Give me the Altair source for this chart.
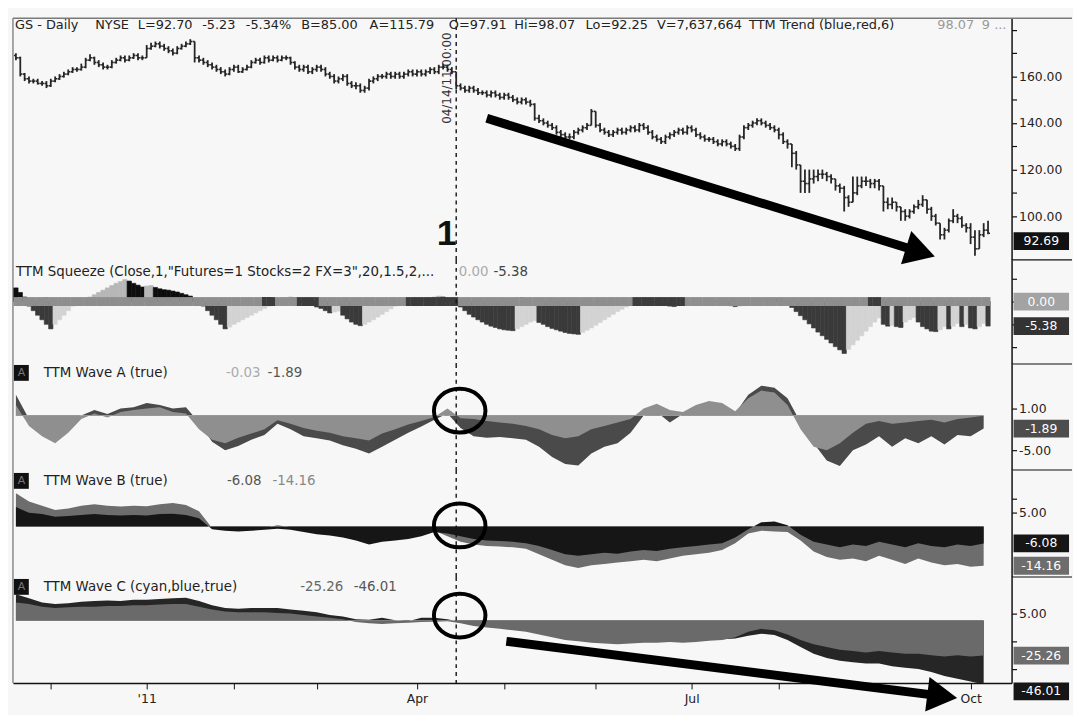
import math
import altair as alt
import pandas as pd

FONT = "DejaVu Sans"

# ------------------------------------------------------------------ data
start_date = "2010-11-18"
market_holidays = ["2010-11-25", "2010-12-24", "2011-01-17", "2011-02-21",
                   "2011-04-22", "2011-05-30", "2011-07-04", "2011-09-05"]

first_open = 169.0
closes = [
    168, 161,
    159, 158, 158, 157,
    157, 156, 158, 159, 160,
    161, 162, 163, 163, 164,
    167, 168, 166, 165, 164,
    164, 166, 167, 168,
    167, 168, 169, 168, 168,
    172, 173, 174, 173, 172,
    171, 170, 172, 173, 174,
    175, 168, 167, 166,
    165, 164, 163, 162, 161,
    163, 164, 162, 163, 164,
    166, 167, 166, 168, 167,
    168, 167, 168, 168, 166,
    164, 163, 164, 162,
    163, 164, 163, 161, 160,
    158, 159, 160, 157, 156,
    156, 154, 155, 158, 159,
    160, 160, 161, 160, 161,
    160, 161, 162, 161, 162,
    161, 162, 163, 162, 164,
    164, 163, 162, 156, 155,
    154, 155, 154, 153,
    153, 152, 153, 152, 151,
    152, 151, 150, 149, 150,
    149, 148, 142, 141, 140,
    139, 138, 136, 135, 134,
    134, 136, 137, 138, 139,
    145, 139, 137, 136,
    135, 136, 137, 136, 137,
    138, 137, 139, 138, 136,
    134, 133, 132, 134, 135,
    136, 137, 136, 138, 137,
    135, 134, 133, 133,
    132, 131, 132, 131, 130,
    129, 134, 138, 139, 140,
    141, 140, 139, 138, 137,
    135, 132, 131, 127, 122,
    115, 114, 116, 117, 118,
    118, 117, 116, 113, 112,
    108, 106, 110, 113, 115,
    115, 114, 115, 113, 106,
    105, 106, 104, 102,
    100, 102, 104, 105, 107,
    103, 100, 97, 92, 94,
    98, 100, 99, 96, 95,
    91, 86, 92, 94, 92.69,
]
highs = [
    170, 168.5,
    161.5, 160, 159, 159,
    158, 158, 159, 160, 161,
    162, 163, 164, 164, 165.5,
    168, 169.5, 168.5, 167, 166,
    165, 167, 168, 169,
    169, 169, 170, 170, 169,
    173.5, 174.5, 175, 175, 174,
    173, 172, 173, 174, 175,
    176, 175, 169, 168,
    167, 166, 165, 164, 163,
    164, 165, 165, 164, 165,
    167, 168, 168, 169, 169,
    169, 169, 169, 169, 168.5,
    166.5, 165, 165, 165,
    164, 165, 165, 164, 162,
    161, 160, 161, 161, 158,
    157.5, 157, 156, 159, 160,
    161, 161, 162, 162, 162,
    162, 162, 163, 163, 163,
    163, 163, 164, 164, 165,
    165.5, 165, 164, 162, 157,
    156, 156, 156, 155,
    154, 154, 154, 154, 153,
    153, 153, 152, 151, 151,
    151, 150, 148.5, 143.5, 142,
    141, 140, 139, 137, 136,
    135.5, 137, 138, 139, 140,
    146, 145, 140, 138,
    137, 137, 138, 138, 138,
    139, 139, 140, 140, 139,
    137, 135, 134, 135, 136,
    137, 138, 138, 139, 139,
    138, 136, 135, 134,
    134, 133, 133, 133, 132,
    131, 135, 139, 140, 141,
    142, 142, 141, 140, 139,
    138, 136, 133, 131, 128,
    122, 120, 120, 120, 120,
    120, 119, 118, 116, 114,
    113, 109, 117, 117, 117,
    117, 116, 116, 116, 113,
    108, 108, 106, 104,
    103, 103, 105, 107, 109,
    107, 104, 101, 97, 95,
    99, 103, 101, 100, 97,
    97, 94, 94, 97, 98.07,
]
lows = [
    167, 160,
    158, 157, 157, 156.5,
    156, 155, 155.5, 157.5, 158.5,
    159.5, 160.5, 161.5, 162, 162.5,
    163.5, 166.5, 165, 164, 163,
    163, 163.5, 165.5, 166.5,
    166, 166.5, 167.5, 167, 167,
    168, 171.5, 172.5, 172, 171,
    170, 169, 169.5, 171.5, 172.5,
    173.5, 166, 166, 165,
    164, 163, 162, 161, 160,
    160.5, 162, 161.5, 161.5, 162.5,
    163.5, 165.5, 165, 165.5, 166,
    166.5, 166, 166.5, 167, 165,
    163, 162, 162, 161,
    161, 162, 162, 160, 159,
    157, 157, 158, 156, 155,
    154.5, 153, 153, 154, 157,
    158, 159, 159, 159, 159,
    159, 159, 160, 160, 160,
    160, 160, 161, 161, 161,
    163, 162, 161, 154.5, 154,
    153, 153, 153, 152,
    152, 151, 151, 151, 150,
    150, 150, 149, 148, 148,
    148, 147, 141, 140, 139,
    138, 137, 135, 134, 133,
    133, 133, 135, 136, 137,
    139, 138, 136, 135,
    134, 134, 135, 135, 135,
    136, 136, 136, 137, 135,
    133, 132, 131, 131, 133,
    134, 135, 135, 135, 136,
    134, 133, 132, 132,
    131, 130, 130, 130, 129,
    128, 128, 133, 137, 138,
    139, 139, 138, 137, 136,
    133, 131, 129, 121, 120,
    110, 110, 110, 114, 115,
    116, 115, 114, 111, 110,
    102, 104, 106, 109, 112,
    113, 112, 112, 111, 102,
    103, 103, 102, 98,
    98, 99, 101, 103, 104,
    101, 98, 96, 90, 90,
    93, 97, 97, 95, 93,
    88, 83, 86, 91, 92.25,
]

squeeze_vals = [
    3.0, 2.0, 1.0, -1.0, -2.0, -3.0, -4.0, -5.0, -6.0, -5.0,
    -4.0, -3.0, -2.0, -1.0, -0.5, 0.3, 0.5, 1.0, 1.5, 2.0,
    2.5, 3.0, 3.5, 4.0, 4.4, 4.8, 4.5, 4.0, 3.6, 3.2,
    3.4, 3.5, 3.1, 2.8, 2.6, 2.5, 2.3, 2.1, 1.8, 1.5,
    1.2, 0.5, -0.3, -1.0, -2.0, -3.0, -4.0, -5.0, -6.0, -5.6,
    -5.0, -4.5, -4.0, -3.5, -3.0, -2.5, -2.0, -1.5, -1.0, -0.5,
    0.2, 0.4, 0.8, 1.0, 0.8, 0.3, -0.2, -0.5, -0.8, -1.2,
    -1.5, -2.0, -2.5, -2.3, -2.1, -3.0, -3.8, -4.5, -5.0, -5.3,
    -5.0, -4.5, -4.0, -3.4, -2.8, -2.2, -1.6, -1.0, -0.5, -0.2,
    0.0, 0.1, 0.2, 0.4, 0.6, 0.8, 1.0, 1.2, 1.0, 0.7,
    0.3, -0.5, -1.2, -2.0, -2.8, -3.4, -4.0, -4.5, -5.0, -5.4,
    -5.7, -6.0, -6.2, -6.3, -6.4, -6.0, -5.5, -5.0, -4.5, -4.2,
    -4.6, -5.0, -5.5, -5.9, -6.2, -6.5, -6.8, -7.0, -7.1, -7.2,
    -6.8, -6.3, -5.8, -5.2, -4.6, -4.0, -3.4, -2.8, -2.2, -1.7,
    -1.2, -0.8, -0.4, -0.1, 0.0, 0.1, 0.0, -0.2, -0.4, -0.7,
    -1.0, -1.1, -0.9, -0.6, -0.4, -0.3, -0.2, -0.1, 0.0, 0.0,
    0.0, -0.1, -0.3, -0.6, -0.9, -1.1, -1.0, -0.6, -0.2, 0.1,
    0.3, 0.5, 0.7, 0.8, 0.6, 0.4, 0.1, -0.5, -1.3, -2.2,
    -3.1, -4.0, -4.9, -5.8, -6.7, -7.5, -8.3, -9.1, -9.9, -10.6,
    -11.4, -10.5, -9.5, -8.5, -7.5, -6.5, -5.5, -4.5, -3.6, -5.0,
    -5.4, -5.2, -5.5, -5.7, -4.5, -4.0, -3.5, -4.5, -5.5, -6.0,
    -6.5, -6.6, -6.2, -5.5, -6.0, -5.4, -4.8, -5.5, -5.0, -5.8,
    -6.0, -5.5, -4.8, -5.38,
]
squeeze_on_ranges = [[57, 59], [65, 69], [90, 101], [142, 153], [196, 198]]

wave_step = 3
wave_a_fast = [
    1.5, -1.5, -3.0, -4.0, -2.5, -0.5, 0.3, -0.3, 0.5, 0.8,
    1.0, 1.2, 0.5, 0.3, -2.0, -3.5, -4.0, -3.2, -2.6, -2.0,
    -0.7, -1.2, -1.8, -2.2, -2.5, -3.0, -3.3, -3.6, -2.6, -2.0,
    -1.3, -0.8, -0.2, 1.0, -0.4, -0.5, -0.8, -1.0, -1.2, -1.5,
    -2.0, -2.8, -3.3, -3.0, -2.0, -1.5, -1.0, -0.5, 1.0, 1.7,
    0.8, 0.5, 1.5, 2.1, 1.8, 0.6, 2.5, 3.6, 3.3, 1.5,
    -2.0, -4.5, -5.0, -4.0, -2.5, -1.2, -0.8, -1.2, -1.0, -0.8,
    -0.6, -1.0, -0.5, -0.3, -0.03,
]
wave_a_slow = [
    3.0, -0.5, -1.0, -1.5, -1.0, 0.0, 0.8, 0.2, 1.0, 1.2,
    1.8, 1.5, 1.0, 1.2, -1.0, -3.8, -5.0, -4.4, -3.5, -2.8,
    -1.2, -2.0, -3.0, -3.3, -3.6, -4.3, -4.8, -5.5, -4.5, -3.5,
    -2.5, -1.6, -0.6, 0.3, -1.8, -3.0, -3.2, -3.1, -3.3, -3.5,
    -4.5, -6.0, -7.0, -7.2, -5.5, -4.5, -4.0, -2.5, 0.0, 0.5,
    -1.0, 0.2, 0.5, 1.0, 1.0, 0.3, 3.0, 4.3, 4.0, 2.5,
    -1.0, -4.0, -6.5, -7.3, -5.0, -4.2, -3.0, -4.5, -3.3, -4.0,
    -3.0, -4.2, -2.8, -3.0, -1.89,
]
wave_b_fast = [
    7.0, 5.0, 4.5, 3.5, 3.8, 4.2, 4.5, 4.2, 4.0, 4.2,
    4.0, 4.5, 4.6, 4.2, 3.0, -1.0, -1.5, -1.8, -1.5, -1.2,
    -0.8, -1.2, -2.0, -2.8, -3.2, -4.0, -5.0, -6.5, -5.5, -5.0,
    -4.5, -3.5, -2.0, -2.5, -3.5, -4.5, -5.0, -5.2, -5.5, -6.0,
    -7.0, -8.5, -10.0, -10.5, -10.0, -9.5, -9.8, -9.0, -8.5, -8.8,
    -8.0, -7.5, -7.0, -6.5, -6.0, -4.0, -1.0, 1.5, 1.8, 0.5,
    -3.0, -5.5, -6.5, -7.5, -6.5, -7.0, -5.5, -6.5, -7.5, -6.0,
    -7.0, -7.5, -6.5, -7.0, -6.08,
]
wave_b_slow = [
    12.0, 9.0, 7.5, 6.0, 6.5, 7.5, 8.0, 7.5, 7.2, 7.5,
    7.3, 8.0, 8.5, 7.8, 5.5, -0.5, -0.8, -1.0, -0.8, -0.5,
    0.5, -0.3, -1.0, -1.5, -2.0, -2.5, -3.0, -4.0, -3.5, -3.0,
    -2.8, -2.5, -1.5, -3.5, -5.5, -6.5, -7.0, -7.2, -7.5, -8.0,
    -10.0, -12.0, -14.0, -15.0, -14.0, -13.5, -13.0, -12.5, -12.0, -12.5,
    -11.5, -10.5, -10.0, -9.5, -8.5, -6.0, -2.5, -1.5, -1.8, -2.0,
    -5.0, -9.0, -11.0, -12.0, -11.5, -12.5, -10.5, -12.0, -13.5, -11.5,
    -13.0, -14.0, -13.5, -14.5, -14.16,
]
wave_c_fast = [
    13.0, 12.0, 10.0, 9.0, 9.5, 10.0, 10.0, 10.5, 10.5, 11.0,
    11.0, 11.5, 12.0, 12.0, 10.0, 8.0, 6.5, 6.0, 6.0, 6.0,
    5.5, 5.0, 4.0, 3.0, 2.0, 1.0, -1.0, -2.0, -2.5, -2.0,
    -1.5, -1.0, -0.8, -0.5, -2.0, -4.0, -5.0, -6.0, -7.0, -8.0,
    -10.0, -12.0, -14.0, -15.0, -16.0, -16.5, -17.0, -16.5, -16.0, -16.0,
    -15.5, -16.0, -15.5, -14.5, -14.0, -12.0, -8.0, -6.0, -7.0, -10.0,
    -14.0, -17.0, -19.0, -21.0, -22.0, -23.0, -22.0, -23.0, -24.0, -24.0,
    -25.0, -26.0, -25.0, -26.0, -25.26,
]
wave_c_slow = [
    19.0, 16.0, 13.0, 12.0, 12.5, 13.5, 14.0, 14.5, 14.0, 15.0,
    15.0, 15.5, 16.0, 16.5, 14.0, 11.0, 9.0, 8.5, 9.0, 9.0,
    9.0, 8.0, 7.0, 6.0, 4.0, 3.0, 1.0, 0.5, 2.0, 0.3,
    -0.5, 2.0, 2.0, 1.0, -1.0, -3.0, -4.0, -5.0, -6.0, -7.0,
    -9.0, -11.0, -13.0, -14.0, -15.0, -15.0, -16.0, -15.5, -15.0, -15.0,
    -14.5, -15.0, -14.5, -14.0, -13.5, -13.0, -11.0, -9.5, -10.5, -14.0,
    -19.0, -24.0, -27.0, -29.0, -30.0, -31.0, -31.0, -33.0, -34.0, -35.0,
    -37.0, -40.0, -42.0, -44.0, -46.01,
]

# annotation anchors (trading-day index, value)
event_index = 101
event_text = "04/14/11 00:00"
event_text_pos = [98.9, 159.3]
marker_text = "1"
marker_pos = [98.8, 92.2]
arrow1_x = [108.0, 207.5]
arrow1_y = [142.0, 84.6]
arrow2_x = [112.5, 212.5]
arrow2_y = [-15.0, -54.5]
circle_x = 101.8
circle_a_y = 0.7
circle_b_y = 0.4
circle_c_y = 3.6

# right-axis tick values
price_ticks = [100, 110, 120, 130, 140, 150, 160, 170, 180]
price_tick_labels = [100, 120, 140, 160]
squeeze_ticks = [5, 0, -5, -10]
squeeze_tick_labels = []
wave_a_ticks = [1, -5]
wave_b_ticks = [10, 5]
wave_b_tick_labels = [5]
wave_c_ticks = [5, -15, -35]
wave_c_tick_labels = [5]

# last-value boxes: values, colours, extra downward shift in px (label collision push)
price_boxes = ([92.69], ["#111111"], [8])
squeeze_boxes = ([0.0, -5.38], ["#a3a3a3", "#333333"], [0, 0])
wave_a_boxes = ([-1.89], ["#4d4d4d"], [0])
wave_b_boxes = ([-6.08, -14.16], ["#161616", "#6d6d6d"], [0, 0])
wave_c_boxes = ([-25.26, -46.01], ["#6d6d6d", "#161616"], [0, 7])

# header texts: (text, panel x, colour)
price_header = [
    ("GS - Daily", 2, "#222"), ("NYSE", 83, "#222"), ("L=92.70", 126, "#222"),
    ("-5.23", 191, "#222"), ("-5.34%", 235, "#222"), ("B=85.00", 291, "#222"),
    ("A=115.79", 360, "#222"), ("O=97.91", 440, "#222"), ("Hi=98.07", 506, "#222"),
    ("Lo=92.25", 578, "#222"), ("V=7,637,664", 650, "#222"),
    ("TTM Trend (blue,red,6)", 743, "#222"), ("98.07", 933, "#9a9a9a"), ("9 ...", 978, "#9a9a9a"),
]
squeeze_header = [
    ('TTM Squeeze (Close,1,"Futures=1 Stocks=2 FX=3",20,1.5,2,...', 3, "#222"),
    ("0.00", 450, "#ababab"), ("-5.38", 485, "#444"),
]
wave_a_header = [("TTM Wave A (true)", 31, "#222"), ("-0.03", 215, "#ababab"), ("-1.89", 257, "#555")]
wave_b_header = [("TTM Wave B (true)", 31, "#222"), ("-6.08", 216, "#555"), ("-14.16", 262, "#888")]
wave_c_header = [("TTM Wave C (cyan,blue,true)", 31, "#222"), ("-25.26", 290, "#666"),
                 ("-46.01", 344, "#555")]

# ------------------------------------------------------------------ geometry / scales
W = 1008
HP, HS, HA, HB, HC = 244, 105, 107, 108, 107
x_domain = [-0.68, 228.4]
price_domain = [81.2, 185.0]
squeeze_domain = [-13.7, 9.13]
wave_a_domain = [-7.86, 7.43]
wave_b_domain = [-18.2, 20.4]
wave_c_domain = [-45.0, 31.4]

XS = alt.Scale(domain=x_domain, nice=False, zero=False)


def yscale(dom):
    return alt.Scale(domain=dom, nice=False, zero=False)


def fmt(v):
    return f"{v:.2f}"


def right_axis(ticks, labels):
    if labels:
        expr = " : ".join(f"datum.value == {v} ? '{fmt(v)}'" for v in labels) + " : ''"
    else:
        expr = "''"
    return alt.Axis(orient="right", values=ticks, labelExpr=expr, title=None, grid=False,
                    domainColor="#111", domainWidth=1.5, tickColor="#111", tickSize=5,
                    tickWidth=1.2, labelFont=FONT, labelFontSize=12.5, labelColor="#222",
                    labelPadding=2, labelOverlap=False, labelBound=False, labelFlush=False)


def one():
    return pd.DataFrame({"a": [1]})


ELLIPSE = "M -1 0 A 1 0.85 0 1 1 1 0 A 1 0.85 0 1 1 -1 0 Z"


class Panel:
    """Holds the shared x/y definitions of one stacked pane."""

    def __init__(self, dom, h, yaxis, xaxis=None):
        self.ys = yscale(dom)
        self.dom = dom
        self.h = h
        self.ya = yaxis
        self.xa = xaxis

    def X(self, field):
        return alt.X(f"{field}:Q", scale=XS, axis=self.xa)

    def Y(self, field):
        return alt.Y(f"{field}:Q", scale=self.ys, axis=self.ya)

    def text_at(self, text, x, y, color="#222", size=12, weight="normal", align="left"):
        return alt.Chart(pd.DataFrame({"t": [text]})).mark_text(
            align=align, baseline="middle", font=FONT, fontSize=size, fontWeight=weight, color=color
        ).encode(x=alt.value(x), y=alt.value(y), text="t:N")

    def header(self, items, y, size=13):
        return [self.text_at(t, x, y, color=c, size=size) for t, x, c in items]

    def value_boxes(self, spec):
        vals, cols, shifts = spec
        out = []
        for v, c, s in zip(vals, cols, shifts):
            df = pd.DataFrame({"v": [v], "t": [fmt(v)]})
            out.append(alt.Chart(df).mark_rect(color=c, yOffset=-9 + s, y2Offset=9 + s).encode(
                x=alt.value(W + 2), x2=alt.value(W + 58), y=self.Y("v"), y2="v:Q"))
            out.append(alt.Chart(df).mark_text(font=FONT, fontSize=12.5, color="white",
                                               align="center", baseline="middle", dy=s).encode(
                x=alt.value(W + 30), y=self.Y("v"), text="t:N"))
        return out

    def separator(self):
        return alt.Chart(one()).mark_rule(color="#111", strokeWidth=1.2).encode(
            x=alt.value(W), x2=alt.value(W + 61), y=alt.value(0))

    def left_border(self):
        return alt.Chart(one()).mark_rule(color="#8a8a8a", strokeWidth=1.5).encode(
            x=alt.value(0), y=alt.value(0), y2=alt.value(self.h))

    def event_rule(self):
        return alt.Chart(pd.DataFrame({"i": [event_index]})).mark_rule(
            color="#111", strokeDash=[4, 4], strokeWidth=1.4).encode(x=self.X("i"))

    def a_icon(self, y0):
        box = alt.Chart(one()).mark_rect(color="#111").encode(
            x=alt.value(1), x2=alt.value(16), y=alt.value(y0), y2=alt.value(y0 + 16))
        return [box, self.text_at("A", 8.5, y0 + 8, color="#777", size=11, align="center")]

    def arrow(self, xs, ys, head_size):
        sx = W / (x_domain[1] - x_domain[0])
        sy = self.h / (self.dom[1] - self.dom[0])
        ang = math.degrees(math.atan2((ys[0] - ys[1]) * sy, (xs[1] - xs[0]) * sx))
        seg = pd.DataFrame({"x0": [xs[0]], "x1": [xs[1]], "y0": [ys[0]], "y1": [ys[1]]})
        shaft = alt.Chart(seg).mark_rule(color="black", strokeWidth=9, strokeCap="butt").encode(
            x=self.X("x0"), x2="x1:Q", y=self.Y("y0"), y2="y1:Q")
        head = alt.Chart(pd.DataFrame({"x": [xs[1]], "y": [ys[1]]})).mark_point(
            shape="triangle-right", filled=True, size=head_size, angle=ang, color="black",
            opacity=1, strokeWidth=0).encode(x=self.X("x"), y=self.Y("y"))
        return [shaft, head]

    def circle(self, yv):
        return alt.Chart(pd.DataFrame({"x": [circle_x], "y": [yv]})).mark_point(
            shape=ELLIPSE, size=2704, filled=False, strokeWidth=4, color="black", opacity=1
        ).encode(x=self.X("x"), y=self.Y("y"))


# ------------------------------------------------------------------ tables
bday = pd.offsets.CustomBusinessDay(holidays=market_holidays)
n = len(closes)
dates = pd.date_range(start_date, periods=n, freq=bday)
idx = list(range(n))
opens = [first_open] + closes[:-1]
price_df = pd.DataFrame({"i": idx, "open": opens, "high": highs, "low": lows, "close": closes})
price_df["i_l"] = price_df["i"] - 0.45
price_df["i_r"] = price_df["i"] + 0.45

month_ticks, month_labels, seen = [], {}, set()
for i, d in zip(idx, dates):
    key = (d.year, d.month)
    if key in seen:
        continue
    seen.add(key)
    if d.day > 5:
        continue
    month_ticks.append(i)
    if d.month == 1:
        month_labels[i] = "'" + f"{d.year % 100:02d}"
    elif d.month in (4, 7, 10):
        month_labels[i] = d.strftime("%b")
x_label_expr = " : ".join(f'datum.value == {k} ? "{v}"' for k, v in month_labels.items()) + ' : ""'
x_axis = alt.Axis(values=month_ticks, labelExpr=x_label_expr, title=None, grid=False,
                  domainColor="#111", domainWidth=1.5, tickColor="#111", tickSize=6,
                  labelFont=FONT, labelFontSize=12.5, labelColor="#222", labelPadding=4,
                  labelOverlap=False)

sq = pd.DataFrame({"i": list(range(len(squeeze_vals))), "v": squeeze_vals})
prev = sq["v"].shift(1).fillna(sq["v"])
rising = sq["v"] > prev
sq["c"] = [("#b7b7b7" if r else "#0d0d0d") if v >= 0 else ("#d3d3d3" if r else "#3a3a3a")
           for v, r in zip(sq["v"], rising)]
sq["i_l"] = sq["i"] - 0.5
sq["i_r"] = sq["i"] + 0.5
on = [any(a <= i <= b for a, b in squeeze_on_ranges) for i in sq["i"]]
dots = pd.DataFrame({"i_l": sq["i"] - 0.55, "i_r": sq["i"] + 0.55, "z": 0.0,
                     "c": ["#3c3c3c" if o else "#8e8e8e" for o in on]})

wave_idx = list(range(0, n, wave_step))[:len(wave_a_fast)]

# ------------------------------------------------------------------ panels
BAR = "#262626"
P = Panel(price_domain, HP, right_axis(price_ticks, price_tick_labels))
pb = alt.Chart(price_df)
price_layers = [
    P.left_border(),
    alt.Chart(one()).mark_rule(color="#7a7a7a", strokeWidth=1.5).encode(
        x=alt.value(0), x2=alt.value(W + 61), y=alt.value(0)),
    P.event_rule(),
    pb.mark_rule(color=BAR, strokeWidth=1.8).encode(x=P.X("i"), y=P.Y("low"), y2="high:Q"),
    pb.mark_rule(color=BAR, strokeWidth=1.6).encode(x=P.X("i_l"), x2="i:Q", y=P.Y("open")),
    pb.mark_rule(color=BAR, strokeWidth=1.6).encode(x=P.X("i"), x2="i_r:Q", y=P.Y("close")),
    *P.arrow(arrow1_x, arrow1_y, 1225),
    alt.Chart(pd.DataFrame({"x": [marker_pos[0]], "y": [marker_pos[1]], "t": [marker_text]}))
    .mark_text(font="Liberation Sans", fontSize=36, fontWeight="bold", color="#111")
    .encode(x=P.X("x"), y=P.Y("y"), text="t:N"),
    alt.Chart(pd.DataFrame({"x": [event_text_pos[0]], "y": [event_text_pos[1]], "t": [event_text]}))
    .mark_text(font=FONT, fontSize=12, color="#333", angle=270)
    .encode(x=P.X("x"), y=P.Y("y"), text="t:N"),
    *P.header(price_header, 7, size=13),
    *P.value_boxes(price_boxes),
]
price_panel = alt.layer(*price_layers).properties(width=W, height=HP)

S = Panel(squeeze_domain, HS, right_axis(squeeze_ticks, squeeze_tick_labels))
squeeze_layers = [
    S.left_border(),
    S.separator(),
    alt.Chart(sq).mark_rect(strokeWidth=0.6).encode(
        x=S.X("i_l"), x2="i_r:Q", y=S.Y("v"), y2=alt.datum(0),
        color=alt.Color("c:N", scale=None), stroke=alt.Stroke("c:N", scale=None)),
    alt.Chart(dots).mark_rect(yOffset=-4.5, y2Offset=4.5).encode(
        x=S.X("i_l"), x2="i_r:Q", y=S.Y("z"), y2="z:Q", color=alt.Color("c:N", scale=None)),
    S.event_rule(),
    *S.header(squeeze_header, 12, size=13.5),
    *S.value_boxes(squeeze_boxes),
]
squeeze_panel = alt.layer(*squeeze_layers).properties(width=W, height=HS)


def wave_panel(pan, fast, slow, c_fast, c_slow, circ_y, header, icon_y, boxes, extra=()):
    wdf = pd.DataFrame({"i": wave_idx, "fast": fast, "slow": slow})
    layers = [
        pan.left_border(),
        pan.separator(),
        alt.Chart(wdf).mark_area(color=c_slow, clip=True, opacity=1).encode(
            x=pan.X("i"), y=pan.Y("slow"), y2=alt.datum(0)),
        alt.Chart(wdf).mark_area(color=c_fast, clip=True, opacity=1).encode(
            x=pan.X("i"), y=pan.Y("fast"), y2=alt.datum(0)),
        pan.event_rule(),
        pan.circle(circ_y),
        *pan.a_icon(icon_y),
        *pan.header(header, icon_y + 8, size=13.5),
        *pan.value_boxes(boxes),
    ]
    for e in extra:
        layers.extend(e)
    return alt.layer(*layers).properties(width=W, height=pan.h)


A = Panel(wave_a_domain, HA, right_axis(wave_a_ticks, wave_a_ticks))
B = Panel(wave_b_domain, HB, right_axis(wave_b_ticks, wave_b_tick_labels))
C = Panel(wave_c_domain, HC, right_axis(wave_c_ticks, wave_c_tick_labels), xaxis=x_axis)

wave_a_panel = wave_panel(A, wave_a_fast, wave_a_slow, "#8f8f8f", "#4a4a4a", circle_a_y,
                          wave_a_header, 1, wave_a_boxes)
wave_b_panel = wave_panel(B, wave_b_fast, wave_b_slow, "#161616", "#6d6d6d", circle_b_y,
                          wave_b_header, 3, wave_b_boxes)
wave_c_panel = wave_panel(C, wave_c_fast, wave_c_slow, "#6a6a6a", "#262626", circle_c_y,
                          wave_c_header, 2, wave_c_boxes,
                          extra=[C.arrow(arrow2_x, arrow2_y, 1225)])

chart = alt.vconcat(price_panel, squeeze_panel, wave_a_panel, wave_b_panel, wave_c_panel,
                    spacing=0, bounds="flush").properties(
    background="#f7f7f7",
    padding={"left": 4, "top": 6, "right": 0, "bottom": 0},
).configure_view(stroke=None)

chart.save("out.html", embed_options={"renderer": "svg", "actions": False})
